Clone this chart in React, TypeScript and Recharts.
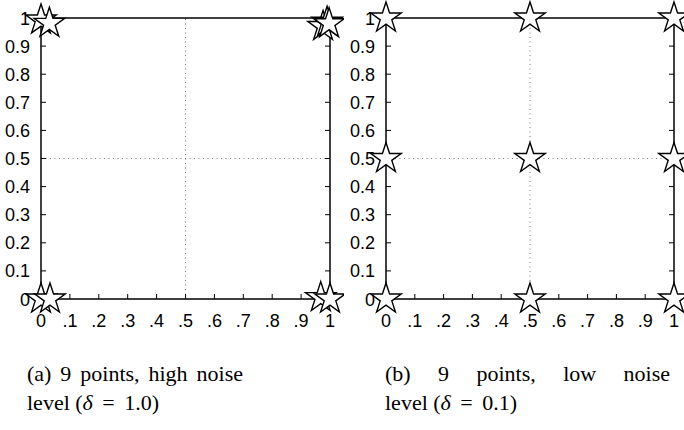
import React from 'react';
import { ScatterChart, Scatter, XAxis, YAxis, ReferenceLine } from 'recharts';

const tickValues = [0, 0.1, 0.2, 0.3, 0.4, 0.5, 0.6, 0.7, 0.8, 0.9, 1];
const xTickLabels = ['0', '.1', '.2', '.3', '.4', '.5', '.6', '.7', '.8', '.9', '1'];
const yTickLabels = ['0', '0.1', '0.2', '0.3', '0.4', '0.5', '0.6', '0.7', '0.8', '0.9', '1'];

const highNoiseX = [0, 0.029, 0.976, 0.99, 0.997, 0, 0.031, 0.968, 1.0];
const highNoiseY = [0.993, 0.981, 0.97, 0.985, 0.98, 0, 0, 0.005, 0];

const lowNoiseX = [0, 0.5, 1, 0, 0.5, 1, 0, 0.5, 1];
const lowNoiseY = [1, 1, 1, 0.5, 0.5, 0.5, 0, 0, 0];

const captionA = { label: '(a) 9 points, high noise', delta: '1.0' };
const captionB = { label: '(b) 9 points, low noise', delta: '0.1' };

const toPoints = (xs: number[], ys: number[]) => xs.map((x, i) => ({ x, y: ys[i] }));

const Star = (props: any) => {
  const { cx, cy } = props;
  if (cx == null || cy == null) return null;
  const R = 16;
  const r = R * 0.382;
  const pts: string[] = [];
  for (let i = 0; i < 10; i++) {
    const ang = ((-90 + i * 36) * Math.PI) / 180;
    const rad = i % 2 === 0 ? R : r;
    pts.push(`${cx + rad * Math.cos(ang)},${cy + rad * Math.sin(ang)}`);
  }
  return <polygon points={pts.join(' ')} fill="#fff" stroke="#000" strokeWidth={1.4} strokeLinejoin="miter" />;
};

const FONT = 'Liberation Sans, Arial, sans-serif';
const TICK_FS = 18;

const XTick = (props: any) => {
  const { x, y, index } = props;
  return (
    <text x={x} y={y} dy={12} textAnchor="middle" fontFamily={FONT} fontSize={TICK_FS} fill="#000">
      {xTickLabels[index]}
    </text>
  );
};

const YTick = (props: any) => {
  const { x, y, index } = props;
  return (
    <text x={x} y={y} dy={6.5} textAnchor="end" fontFamily={FONT} fontSize={TICK_FS} fill="#000">
      {yTickLabels[index]}
    </text>
  );
};

const noTick = () => <g />;

const axisLine = { stroke: '#000', strokeWidth: 1.5 };
const tickLine = { stroke: '#000', strokeWidth: 1 };

const Panel = ({ data, width, right }: { data: { x: number; y: number }[]; width: number; right: number }) => (
  <ScatterChart width={width} height={330} margin={{ top: 17, right, bottom: 0, left: 0 }}>
    <XAxis
      dataKey="x"
      type="number"
      domain={[0, 1]}
      ticks={tickValues}
      interval={0}
      tickSize={-5}
      tickMargin={21}
      height={31}
      stroke="#000"
      axisLine={axisLine}
      tickLine={tickLine}
      tick={<XTick />}
    />
    <XAxis
      xAxisId="top"
      orientation="top"
      type="number"
      domain={[0, 1]}
      allowDataOverflow
      ticks={tickValues}
      interval={0}
      tickSize={-5}
      height={1}
      stroke="#000"
      axisLine={axisLine}
      tickLine={tickLine}
      tick={noTick}
    />
    <YAxis
      dataKey="y"
      type="number"
      domain={[0, 1]}
      ticks={tickValues}
      interval={0}
      tickSize={-5}
      tickMargin={16}
      width={41}
      stroke="#000"
      axisLine={axisLine}
      tickLine={tickLine}
      tick={<YTick />}
    />
    <YAxis
      yAxisId="right"
      orientation="right"
      type="number"
      domain={[0, 1]}
      allowDataOverflow
      ticks={tickValues}
      interval={0}
      tickSize={-5}
      width={1}
      stroke="#000"
      axisLine={axisLine}
      tickLine={tickLine}
      tick={noTick}
    />
    <ReferenceLine x={0.5} stroke="#777" strokeDasharray="1 3.5" />
    <ReferenceLine y={0.5} stroke="#777" strokeDasharray="1 3.5" />
    <Scatter data={data} shape={<Star />} isAnimationActive={false} />
  </ScatterChart>
);

const Caption = ({ c, left, width }: { c: { label: string; delta: string }; left: number; width: number }) => (
  <div
    style={{
      position: 'absolute',
      left,
      top: 359,
      width,
      fontFamily: 'Liberation Serif, Times New Roman, serif',
      fontSize: 22,
      lineHeight: '29px',
      color: '#000',
    }}
  >
    <div style={{ textAlign: 'justify', textAlignLast: 'justify', whiteSpace: 'nowrap' as any }}>{c.label}</div>
    <div style={{ whiteSpace: 'pre' }}>
      {'level ('}
      <i>δ</i>
      <span style={{ margin: '0 4px' }}>{' = '}</span>
      {c.delta + ')'}
    </div>
  </div>
);

export default function App() {
  return (
    <div style={{ position: 'absolute', left: 0, top: 0, width: 684, height: 430, background: '#fff' }}>
      <div style={{ position: 'absolute', left: 0, top: 0 }}>
        <Panel data={toPoints(highNoiseX, highNoiseY)} width={344} right={13} />
      </div>
      <div style={{ position: 'absolute', left: 345, top: 0 }}>
        <Panel data={toPoints(lowNoiseX, lowNoiseY)} width={339} right={9} />
      </div>
      <Caption c={captionA} left={27} width={216} />
      <Caption c={captionB} left={385} width={285} />
    </div>
  );
}
